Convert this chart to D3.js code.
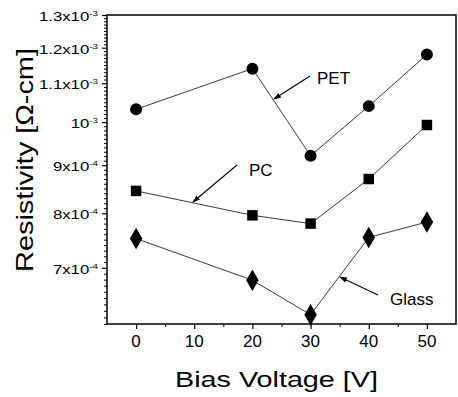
<!DOCTYPE html>
<html><head><meta charset="utf-8">
<script src="https://cdn.jsdelivr.net/npm/d3@7"></script>
<style>body{margin:0;background:#fff}svg{display:block}text{font-family:"Liberation Sans",Arial,sans-serif;fill:#000}</style>
</head><body><svg id="c" width="458" height="397"></svg>
<script>
const biasVoltage = [0, 20, 30, 40, 50];
const petValues   = [1.032e-3, 1.14e-3, 9.21e-4, 1.04e-3, 1.18e-3];
const pcValues    = [8.45e-4, 7.96e-4, 7.80e-4, 8.70e-4, 9.93e-4];
const glassValues = [7.52e-4, 6.79e-4, 6.24e-4, 7.54e-4, 7.83e-4];
const yTickValues = [7e-4, 8e-4, 9e-4, 1e-3, 1.1e-3, 1.2e-3, 1.3e-3];
const yTickLabels = [["7x10","-4"],["8x10","-4"],["9x10","-4"],["10","-3"],["1.1x10","-3"],["1.2x10","-3"],["1.3x10","-3"]];
const xTickValues = [0, 10, 20, 30, 40, 50];

const svg = d3.select("#c");
const L = 107, R = 456, T = 15, B = 324;
const x = d3.scaleLinear().domain([-5, 55]).range([L, R]);
const y = d3.scaleLog().domain([6.1e-4, 1.3e-3]).range([B, T]);

// frame
svg.append("rect").attr("x", L).attr("y", T).attr("width", R - L).attr("height", B - T)
  .attr("fill", "none").attr("stroke", "#000").attr("stroke-width", 1.5);

// x axis ticks
const xMinor = d3.range(-5, 56, 5).filter(v => v % 10 !== 0 && v > -5 && v < 55);
svg.append("g").attr("transform", `translate(0,${B})`)
  .call(d3.axisBottom(x).tickValues(xTickValues).tickSize(5).tickFormat(""))
  .call(g => g.select(".domain").remove())
  .call(g => g.selectAll("line").attr("stroke-width", 1.2));
svg.append("g").attr("transform", `translate(0,${B})`)
  .call(d3.axisBottom(x).tickValues(xMinor).tickSize(3).tickFormat(""))
  .call(g => g.select(".domain").remove());
svg.append("g").selectAll("text").data(xTickValues).enter().append("text")
  .attr("x", d => x(d)).attr("y", B + 23).attr("text-anchor", "middle")
  .attr("font-size", 17).text(d => d);

// y axis ticks
const yMinor = d3.range(61, 131).map(v => v * 1e-5).filter(v => yTickValues.every(t => Math.abs(t - v) > 1e-9));
svg.append("g").attr("transform", `translate(${L},0)`)
  .call(d3.axisLeft(y).tickValues(yMinor).tickSize(3).tickFormat(""))
  .call(g => g.select(".domain").remove());
svg.append("g").attr("transform", `translate(${L},0)`)
  .call(d3.axisLeft(y).tickValues(yTickValues).tickSize(5).tickFormat(""))
  .call(g => g.select(".domain").remove())
  .call(g => g.selectAll("line").attr("stroke-width", 1.2));
yTickValues.forEach((v, i) => {
  const t = svg.append("text").attr("transform", `translate(${L - 9},${y(v) + 6}) scale(1.4,1)`)
    .attr("text-anchor", "end").attr("font-size", 12);
  t.append("tspan").text(yTickLabels[i][0]);
  t.append("tspan").attr("font-size", 7).attr("dy", -5).text(yTickLabels[i][1]);
});

// axis titles
svg.append("text").attr("x", 276.5).attr("y", 387).attr("text-anchor", "middle")
  .attr("font-size", 22).attr("textLength", 203).attr("lengthAdjust", "spacingAndGlyphs")
  .text("Bias Voltage [V]");
svg.append("text").attr("transform", "translate(33,160) rotate(-90)").attr("text-anchor", "middle")
  .attr("font-size", 24).attr("textLength", 224).attr("lengthAdjust", "spacingAndGlyphs")
  .text("Resistivity [Ω-cm]");

// series
const line = d3.line().x(d => x(d[0])).y(d => y(d[1]));
const series = [
  {vals: petValues, sym: d3.symbolCircle, size: 113},
  {vals: pcValues, sym: d3.symbolSquare, size: 110},
  {vals: glassValues, sym: d3.symbolDiamond, size: 135}
];
series.forEach(s => {
  const pts = biasVoltage.map((v, i) => [v, s.vals[i]]);
  svg.append("path").datum(pts).attr("d", line).attr("fill", "none")
    .attr("stroke", "#222").attr("stroke-width", 0.9);
  svg.selectAll(null).data(pts).enter().append("path")
    .attr("transform", d => `translate(${x(d[0])},${y(d[1])})`)
    .attr("d", d3.symbol().type(s.sym).size(s.size)).attr("fill", "#000");
});

// annotations
const defs = svg.append("defs");
defs.append("marker").attr("id", "ah").attr("viewBox", "0 0 10 10").attr("refX", 9).attr("refY", 5)
  .attr("markerWidth", 7).attr("markerHeight", 7).attr("orient", "auto")
  .append("path").attr("d", "M0,1.5L10,5L0,8.5Z").attr("fill", "#000");
const notes = [
  {label: "PET", tx: 317, ty: 84, x1: 310, y1: 76, x2: 274, y2: 99},
  {label: "PC", tx: 249, ty: 176, x1: 237, y1: 165, x2: 193, y2: 202},
  {label: "Glass", tx: 390, ty: 305, x1: 378, y1: 295, x2: 340, y2: 277}
];
notes.forEach(n => {
  svg.append("line").attr("x1", n.x1).attr("y1", n.y1).attr("x2", n.x2).attr("y2", n.y2)
    .attr("stroke", "#000").attr("stroke-width", 1.1).attr("marker-end", "url(#ah)");
  svg.append("text").attr("x", n.tx).attr("y", n.ty).attr("font-size", 17).text(n.label);
});
</script></body></html>
